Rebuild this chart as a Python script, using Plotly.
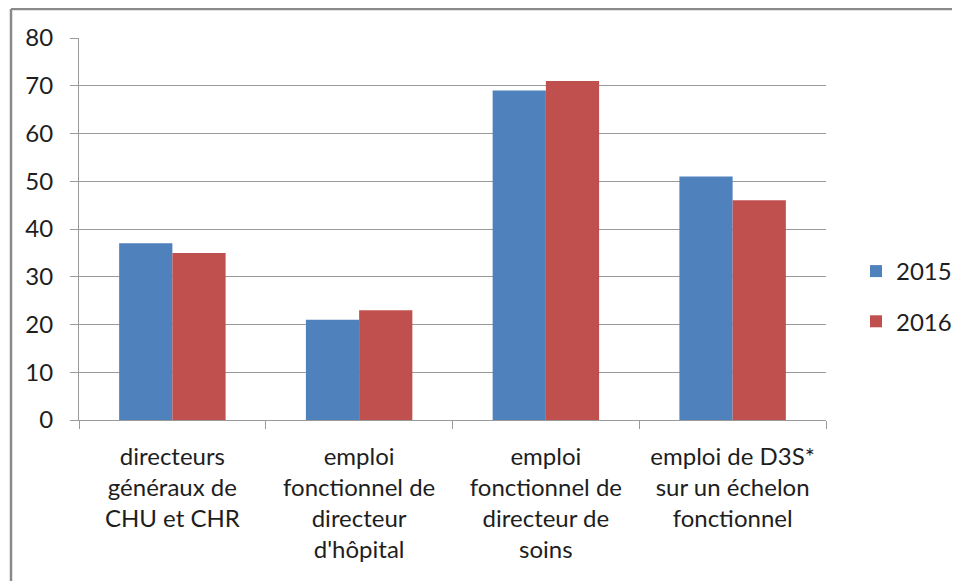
import plotly.graph_objects as go

categories = [
    "directeurs<br>généraux de<br>CHU et CHR",
    "emploi<br>fonctionnel de<br>directeur<br>d'hôpital",
    "emploi<br>fonctionnel de<br>directeur de<br>soins",
    "emploi de D3S*<br>sur un échelon<br>fonctionnel",
]
values_2015 = [37, 21, 69, 51]
values_2016 = [35, 23, 71, 46]
series_names = ["2015", "2016"]
y_ticks = [0, 10, 20, 30, 40, 50, 60, 70, 80]

FONT = "Lato, Carlito, Calibri, 'Open Sans', sans-serif"
TXT = "#1e1e1e"
GRID = "#9a9a9a"
FS = 24

fig = go.Figure()
fig.add_trace(go.Bar(x=categories, y=values_2015, name=series_names[0],
                     marker=dict(color="#4F81BD", line=dict(width=0)),
                     legendgroup="a"))
fig.add_trace(go.Bar(x=categories, y=values_2016, name=series_names[1],
                     marker=dict(color="#C0504D", line=dict(width=0)),
                     legendgroup="b"))

# page body has an 8px margin, so figure origin is at (8, 8) of the window
OFF = 8
W, H = 960 - OFF, 581 - OFF
l, t = 79 - OFF, 38 - OFF
r = W - (826 - OFF)
b = H - (420 - OFF)
pw, ph = W - l - r, H - t - b

def px_x(x):
    return (x - OFF - l) / pw

def px_y(y):
    return (H - b - (y - OFF)) / ph

fig.update_layout(
    width=W, height=H,
    margin=dict(l=l, r=r, t=t, b=b, autoexpand=False),
    paper_bgcolor="white", plot_bgcolor="white",
    font=dict(family=FONT, size=FS, color=TXT),
    barmode="group", bargap=0.43, bargroupgap=0,
    showlegend=True,
    legend=dict(x=px_x(856), y=px_y(249), xanchor="left", yanchor="top",
                font=dict(size=FS, color=TXT), tracegroupgap=16,
                itemwidth=30, bgcolor="rgba(0,0,0,0)"),
    xaxis=dict(
        type="category", tickson="boundaries", ticks="outside",
        ticklen=8, tickcolor=GRID, tickwidth=1,
        showline=True, linecolor=GRID, linewidth=1,
        showgrid=False, tickfont=dict(size=FS, color=TXT),
        ticklabelstandoff=15,
    ),
    yaxis=dict(
        range=[0, 80], tickvals=y_ticks, ticks="outside", ticklen=8,
        tickcolor=GRID, tickwidth=1,
        showline=True, linecolor=GRID, linewidth=1,
        showgrid=True, gridcolor=GRID, gridwidth=1,
        zeroline=False, tickfont=dict(size=FS, color=TXT),
        ticklabelstandoff=12,
    ),
    shapes=[
        dict(type="line", xref="paper", yref="paper",
             x0=px_x(11), x1=px_x(1000), y0=px_y(9), y1=px_y(9),
             line=dict(color="#8a8a8a", width=2.5)),
        dict(type="line", xref="paper", yref="paper",
             x0=px_x(11), x1=px_x(11), y0=px_y(9), y1=px_y(640),
             line=dict(color="#8a8a8a", width=2.5)),
    ],
)

fig.write_html("out.html")
